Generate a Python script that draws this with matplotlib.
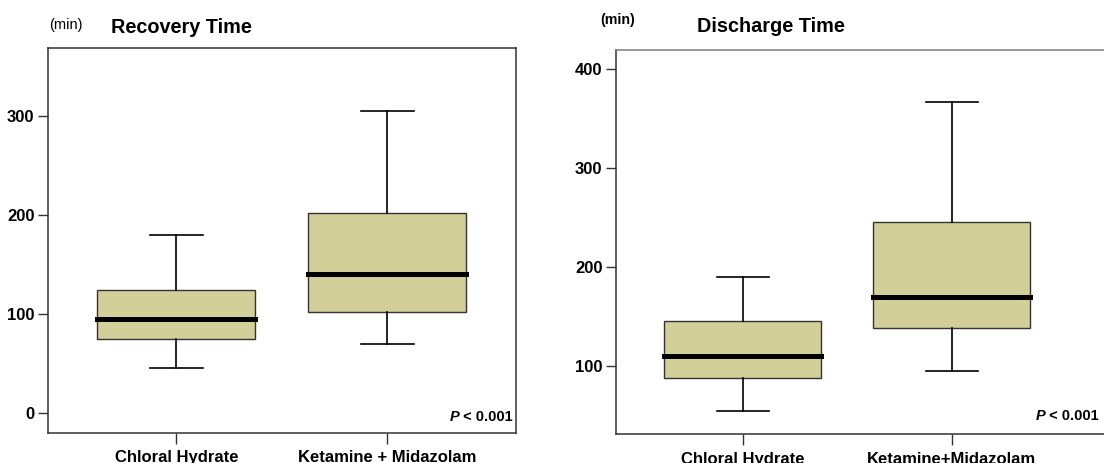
import matplotlib.pyplot as plt

plt.rcParams['font.family'] = ['Liberation Sans', 'DejaVu Sans']

groups = ["Chloral Hydrate", "Ketamine + Midazolam"]
groups_right = ["Chloral Hydrate", "Ketamine+Midazolam"]

# recovery time (min): whisker low, q1, median, q3, whisker high
rec_low = [45, 70]
rec_q1 = [75, 102]
rec_med = [95, 140]
rec_q3 = [124, 202]
rec_high = [180, 305]

# discharge time (min)
dis_low = [55, 95]
dis_q1 = [88, 138]
dis_med = [110, 170]
dis_q3 = [145, 245]
dis_high = [190, 366]

p_text = " < 0.001"

FILL = "#D3CF99"
EDGE = "#333333"
W, H = 1104, 463


def make_stats(low, q1, med, q3, high):
    out = []
    for i in range(len(low)):
        out.append({"whislo": low[i], "q1": q1[i], "med": med[i],
                    "q3": q3[i], "whishi": high[i], "fliers": []})
    return out


def draw_panel(ax, stats, labels, ylim, xlim, yticks):
    ax.bxp(stats, positions=range(len(stats)), widths=0.75, capwidths=0.25,
           patch_artist=True, showfliers=False,
           boxprops=dict(facecolor=FILL, edgecolor=EDGE, linewidth=1.0),
           whiskerprops=dict(color="black", linewidth=1.2),
           capprops=dict(color="black", linewidth=1.2),
           medianprops=dict(color="black", linewidth=3.6, solid_capstyle="projecting"))
    ax.set_ylim(*ylim)
    ax.set_xlim(*xlim)
    ax.set_yticks(yticks)
    ax.set_xticks(range(len(labels)))
    ax.set_xticklabels(labels, fontsize=12, fontweight="bold")
    for lab in ax.get_yticklabels():
        lab.set_fontsize(12)
        lab.set_fontweight("bold")
    ax.tick_params(axis="y", length=7, width=1, color=EDGE, pad=2.5)
    ax.tick_params(axis="x", length=8, width=1, color=EDGE, pad=4.5)
    for sp in ax.spines.values():
        sp.set_color(EDGE)
        sp.set_linewidth(1.1)


def p_label(ax, x, y):
    t = ax.text(x, y, p_text, transform=ax.transAxes, ha="right", va="baseline",
                fontsize=10.5, fontweight="bold")
    ax.annotate("P", xy=(0, 0), xycoords=t, ha="right", va="bottom",
                fontsize=10.5, fontweight="bold", fontstyle="italic")


fig = plt.figure(figsize=(W / 100, H / 100), dpi=100)

ax1 = fig.add_axes([47.7 / W, 30.3 / H, 468.3 / W, 385 / H])
draw_panel(ax1, make_stats(rec_low, rec_q1, rec_med, rec_q3, rec_high), groups,
           (-20, 369), (-0.61, 1.61), [0, 100, 200, 300])
p_label(ax1, 0.9936, 0.031)

ax2 = fig.add_axes([615.7 / W, 28.7 / H, 489.3 / W, 384.3 / H])
draw_panel(ax2, make_stats(dis_low, dis_q1, dis_med, dis_q3, dis_high), groups_right,
           (31, 419), (-0.608, 1.733), [100, 200, 300, 400])
ax2.spines["top"].set_color("#808080")
ax2.spines["right"].set_visible(False)
p_label(ax2, 0.9877, 0.037)

# header texts
fig.text(49.3 / W, 1 - 25 / H, "(min)", fontsize=10.5, va="center", ha="left")
fig.text(111 / W, 1 - 33.3 / H, "Recovery Time", fontsize=14.3, fontweight="bold",
         va="baseline", ha="left")
fig.text(600.7 / W, 1 - 20 / H, "(min)", fontsize=10.2, fontweight="bold", va="center", ha="left")
fig.text(697.3 / W, 1 - 31.7 / H, "Discharge Time", fontsize=14.3, fontweight="bold",
         va="baseline", ha="left")

fig.savefig("out.png", dpi=100)
